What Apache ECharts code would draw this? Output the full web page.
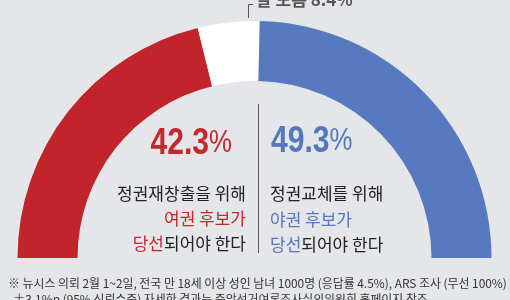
<!DOCTYPE html>
<html><head><meta charset="utf-8">
<script src="https://cdn.jsdelivr.net/npm/echarts@6/dist/echarts.min.js"></script>
<style>html,body{margin:0;padding:0;background:#e4e6e9;}#c{width:510px;height:300px;}</style>
</head><body><div id="c"></div>
<script>
const categories = ['여권 후보 당선', '잘 모름', '야권 후보 당선'];
const values = [42.3, 8.4, 49.3];
const colors = ['#c1242a', '#ffffff', '#5679bf'];
const leftLines = ['정권재창출을 위해', '여권 후보가', '당선되어야 한다'];
const rightLines = ['정권교체를 위해', '야권 후보가', '당선되어야 한다'];
const footnote1 = '※ 뉴시스 의뢰 2월 1~2일, 전국 만 18세 이상 성인 남녀 1000명 (응답률 4.5%), ARS 조사 (무선 100%)';
const footnote2 = '  ±3.1%p (95% 신뢰수준) 자세한 결과는 중앙선거여론조사심의위원회 홈페이지 참조';

const KR = '"Noto Sans CJK KR", "Noto Sans", sans-serif';
const NUM = '"Liberation Sans Narrow", "Liberation Sans", Arial, sans-serif';
const total = values.reduce((a, b) => a + b, 0);

const chart = echarts.init(document.getElementById('c'), null, {renderer: 'canvas'});
const pieData = values.map((v, i) => ({name: categories[i], value: v, itemStyle: {color: colors[i]}}));
pieData.push({name: 'hidden', value: total, itemStyle: {color: 'none'}, label: {show: false}, emphasis: {disabled: true}});

const red = '#c8262d', blue = '#5577bb', dark = '#222222';
function num(v, color, x, y, align) {
  return {type: 'text', x: x, y: y, scaleX: 0.86, scaleY: 1.04, style: {
    text: '{n|' + v.toFixed(1) + '}{p|%}', align: align, verticalAlign: 'bottom',
    rich: {n: {fontFamily: NUM, fontWeight: 'bold', fontSize: 35, fill: color},
           p: {fontFamily: NUM, fontWeight: 'normal', fontSize: 30, fill: color}}}};
}
function line(t, x, y, align, color) {
  return {type: 'text', x: x, y: y, style: {text: t, align: align, verticalAlign: 'middle',
    fontFamily: KR, fontSize: 17, fill: color}};
}
function richLine(parts, x, y, align) {
  let s = '';
  const rich = {};
  parts.forEach((p, i) => { s += '{s' + i + '|' + p[0] + '}'; rich['s' + i] = {fontFamily: KR, fontSize: 17, fill: p[1]}; });
  return {type: 'text', x: x, y: y, style: {text: s, rich: rich, align: align, verticalAlign: 'middle'}};
}

chart.setOption({
  backgroundColor: '#e4e6e9',
  animation: false,
  series: [{
    type: 'pie', startAngle: 180, clockwise: true,
    center: [254.5, 258], radius: [177, 237],
    label: {show: false}, labelLine: {show: false}, silent: true,
    data: pieData
  }],
  graphic: [
    {type: 'line', shape: {x1: 258.5, y1: 104, x2: 258.5, y2: 253}, style: {stroke: '#555', lineWidth: 1}},
    {type: 'polyline', shape: {points: [[248.5, 18], [248.5, 4.5], [253, 4.5]]}, style: {stroke: '#555', lineWidth: 1, fill: null}},
    {type: 'text', x: 256, y: 8, style: {text: categories[1] + ' ' + values[1].toFixed(1) + '%', align: 'left', verticalAlign: 'bottom',
      fontFamily: KR, fontSize: 17, fontWeight: 'bold', fill: '#555'}},
    num(values[0], red, 232, 162, 'right'),
    num(values[2], blue, 271, 160, 'left'),
    line(leftLines[0], 246, 194, 'right', dark),
    line(leftLines[1], 246, 219, 'right', red),
    richLine([[rightLines[2].slice(0, 2), red], [leftLines[2].slice(2), dark]], 246, 244, 'right'),
    line(rightLines[0], 270, 194, 'left', dark),
    line(rightLines[1], 270, 220, 'left', blue),
    richLine([[rightLines[2].slice(0, 2), blue], [rightLines[2].slice(2), dark]], 270, 245, 'left'),
    {type: 'text', x: 8, y: 283, scaleX: 0.99, style: {text: footnote1, verticalAlign: 'middle', fontFamily: KR, fontSize: 12, fill: '#333'}},
    {type: 'text', x: 8, y: 299, scaleX: 0.99, style: {text: footnote2, verticalAlign: 'middle', fontFamily: KR, fontSize: 12, fill: '#333'}}
  ]
});
</script></body></html>
